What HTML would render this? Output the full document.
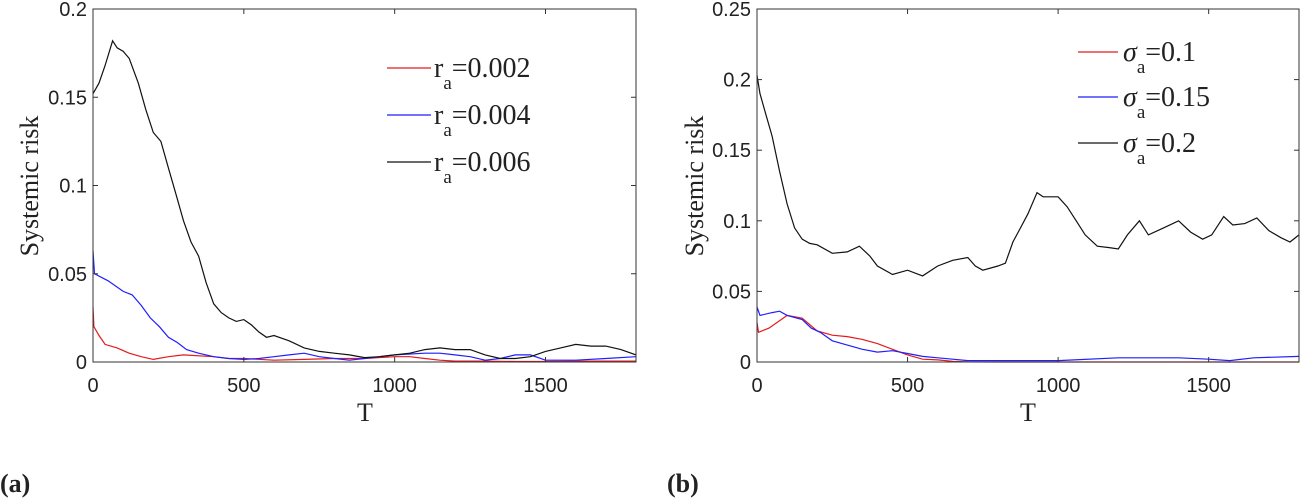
<!DOCTYPE html>
<html><head><meta charset="utf-8"><style>
body{margin:0;background:#fff;}
svg{display:block;}
.tk{font-family:"Liberation Sans",sans-serif;font-size:20px;fill:#222;}
.lb{font-family:"Liberation Serif",serif;font-size:26px;fill:#222;}
.lg{font-family:"Liberation Serif",serif;font-size:28px;fill:#222;}
</style></head><body>
<svg id="c" width="1301" height="499" viewBox="0 0 1301 499" xmlns="http://www.w3.org/2000/svg"></svg>
<script>
const xTicks=[0,500,1000,1500];
const yTicksA=[0,0.05,0.1,0.15,0.2];
const yTickLabelsA=["0","0.05","0.1","0.15","0.2"];
const yTicksB=[0,0.05,0.1,0.15,0.2,0.25];
const yTickLabelsB=["0","0.05","0.1","0.15","0.2","0.25"];
const aBlackT=[0,20,40,65,80,100,120,150,175,200,225,250,275,300,325,350,375,400,425,450,475,500,525,550,575,600,650,700,750,800,850,900,950,1000,1050,1100,1150,1200,1250,1300,1350,1400,1450,1500,1550,1600,1650,1700,1750,1800];
const aBlackV=[0.152,0.158,0.168,0.182,0.178,0.176,0.172,0.158,0.143,0.13,0.125,0.11,0.095,0.08,0.068,0.06,0.045,0.033,0.028,0.025,0.023,0.024,0.021,0.017,0.014,0.015,0.012,0.008,0.006,0.005,0.004,0.0025,0.003,0.004,0.005,0.007,0.008,0.007,0.007,0.004,0.002,0.002,0.003,0.006,0.008,0.01,0.009,0.009,0.007,0.004];
const aBlueT=[0,5,50,100,130,160,190,220,250,280,310,350,400,450,500,550,600,650,700,750,800,850,900,950,1000,1100,1150,1200,1250,1300,1350,1400,1450,1500,1600,1700,1800];
const aBlueV=[0.063,0.05,0.046,0.04,0.038,0.032,0.025,0.02,0.014,0.011,0.007,0.005,0.003,0.002,0.0015,0.002,0.003,0.004,0.005,0.003,0.002,0.001,0.002,0.003,0.004,0.005,0.005,0.004,0.003,0.001,0.002,0.004,0.004,0.001,0.001,0.002,0.003];
const aRedT=[0,3,20,40,80,120,160,200,250,300,400,450,500,600,700,800,900,1000,1050,1100,1150,1200,1300,1400,1500,1650,1800];
const aRedV=[0.031,0.02,0.015,0.01,0.008,0.005,0.003,0.0015,0.003,0.004,0.003,0.002,0.002,0.001,0.0015,0.002,0.002,0.003,0.003,0.002,0.001,0.0005,0.0005,0.0003,0.0003,0.0005,0.0005];
const bBlackT=[0,10,30,50,75,100,125,150,175,200,250,300,340,375,400,450,500,550,600,650,700,725,750,800,825,850,875,900,930,950,1000,1030,1060,1090,1130,1170,1200,1230,1270,1300,1350,1400,1440,1480,1510,1550,1580,1620,1660,1700,1740,1770,1800];
const bBlackV=[0.203,0.19,0.175,0.16,0.135,0.112,0.095,0.087,0.084,0.083,0.077,0.078,0.082,0.075,0.068,0.062,0.065,0.061,0.068,0.072,0.074,0.068,0.065,0.068,0.07,0.085,0.095,0.105,0.12,0.117,0.117,0.11,0.1,0.09,0.082,0.081,0.08,0.09,0.1,0.09,0.095,0.1,0.092,0.087,0.09,0.103,0.097,0.098,0.102,0.093,0.088,0.085,0.09];
const bBlueT=[0,10,50,75,100,150,180,210,250,300,350,400,450,500,550,600,650,700,800,1000,1200,1300,1400,1500,1570,1650,1800];
const bBlueV=[0.039,0.033,0.035,0.036,0.033,0.03,0.024,0.021,0.015,0.012,0.009,0.007,0.008,0.006,0.004,0.003,0.002,0.001,0.001,0.001,0.003,0.003,0.003,0.002,0.001,0.003,0.004];
const bRedT=[0,5,40,80,100,150,200,250,300,350,400,450,500,550,600,650,700,800,1800];
const bRedV=[0.028,0.021,0.024,0.03,0.033,0.031,0.022,0.019,0.018,0.016,0.013,0.009,0.005,0.002,0.0015,0.0005,0.0001,0,0];

const NS="http://www.w3.org/2000/svg";
const svg=document.getElementById('c');
function mk(tag,attrs,parent){const e=document.createElementNS(NS,tag);for(const k in attrs)e.setAttribute(k,attrs[k]);(parent||svg).appendChild(e);return e;}

function panel(id,x0,x1,y0,y1,ymax,yt,ytl,series,legend,legendX,legendY,sigma,ylabX,tX,tag,tagX){
  const g=mk('g',{});
  
  
  const sx=t=>x0+(t/1800)*(x1-x0);
  const sy=v=>y1-(v/ymax)*(y1-y0);
  series.forEach(s=>{
    const p=mk('polyline',{points:s.t.map((t,i)=>sx(t).toFixed(1)+','+sy(s.v[i]).toFixed(1)).join(' '),fill:'none',stroke:s.c,'stroke-width':1.2},g);
    
    
  });
  const box=mk('rect',{x:x0,y:y0,width:x1-x0,height:y1-y0,fill:'none',stroke:'#333','stroke-width':1},g);
  
  
  xTicks.forEach(t=>{
    mk('line',{x1:sx(t),x2:sx(t),y1:y1,y2:y1-5,stroke:'#333'},g);
    mk('line',{x1:sx(t),x2:sx(t),y1:y0,y2:y0+5,stroke:'#333'},g);
    const l=mk('text',{x:sx(t),y:y1+30,'text-anchor':'middle',class:'tk'},g);
    l.textContent=String(t);
    
    
  });
  yt.forEach((v,i)=>{
    mk('line',{x1:x0,x2:x0+5,y1:sy(v),y2:sy(v),stroke:'#333'},g);
    mk('line',{x1:x1,x2:x1-5,y1:sy(v),y2:sy(v),stroke:'#333'},g);
    const l=mk('text',{x:x0-6,y:sy(v)+7,'text-anchor':'end',class:'tk'},g);
    l.textContent=ytl[i];
    
    
  });
  const yl=mk('text',{x:0,y:0,'text-anchor':'middle',class:'lb',transform:`translate(${ylabX},186) rotate(-90)`},g);
  yl.textContent='Systemic risk';
  
  
  const xl=mk('text',{x:tX,y:421,'text-anchor':'middle',class:'lb'},g);
  xl.textContent='T';
  
  
  legend.forEach((L,i)=>{
    const yy=legendY[i];
    const le=mk('g',{},g);
    
    
    mk('line',{x1:legendX,x2:legendX+(sigma?40:44),y1:yy,y2:yy,stroke:series[i].c,'stroke-width':1.2},le);
    const tx=mk('text',{x:legendX+(sigma?45:47),y:yy+9,class:'lg'},le);
    const a=mk('tspan',{'font-style':sigma?'italic':'normal'},tx);a.textContent=sigma?'σ':'r';
    const b=mk('tspan',{dy:12,'font-size':'19'},tx);b.textContent='a';
    const c=mk('tspan',{dy:-12},tx);c.textContent=L;
  });
  const tg=mk('text',{x:tagX,y:492,class:'lb','font-weight':'bold','font-size':'29'},g);
  tg.textContent=tag;
  
  
}
panel('panel-a',93,636,9,362,0.2,yTicksA,yTickLabelsA,
 [{t:aRedT,v:aRedV,c:'#e41a1c',name:'line-ra-0.002'},{t:aBlueT,v:aBlueV,c:'#1f1fff',name:'line-ra-0.004'},{t:aBlackT,v:aBlackV,c:'#111',name:'line-ra-0.006'}],
 ['=0.002','=0.004','=0.006'],387,[68,115,162],false,38,365,'(a)',0);
panel('panel-b',757,1299,9,362,0.25,yTicksB,yTickLabelsB,
 [{t:bRedT,v:bRedV,c:'#e41a1c',name:'line-sigma-0.1'},{t:bBlueT,v:bBlueV,c:'#1f1fff',name:'line-sigma-0.15'},{t:bBlackT,v:bBlackV,c:'#111',name:'line-sigma-0.2'}],
 ['=0.1','=0.15','=0.2'],1078,[52,97,143],true,703,1028,'(b)',667);
</script>
</body></html>
